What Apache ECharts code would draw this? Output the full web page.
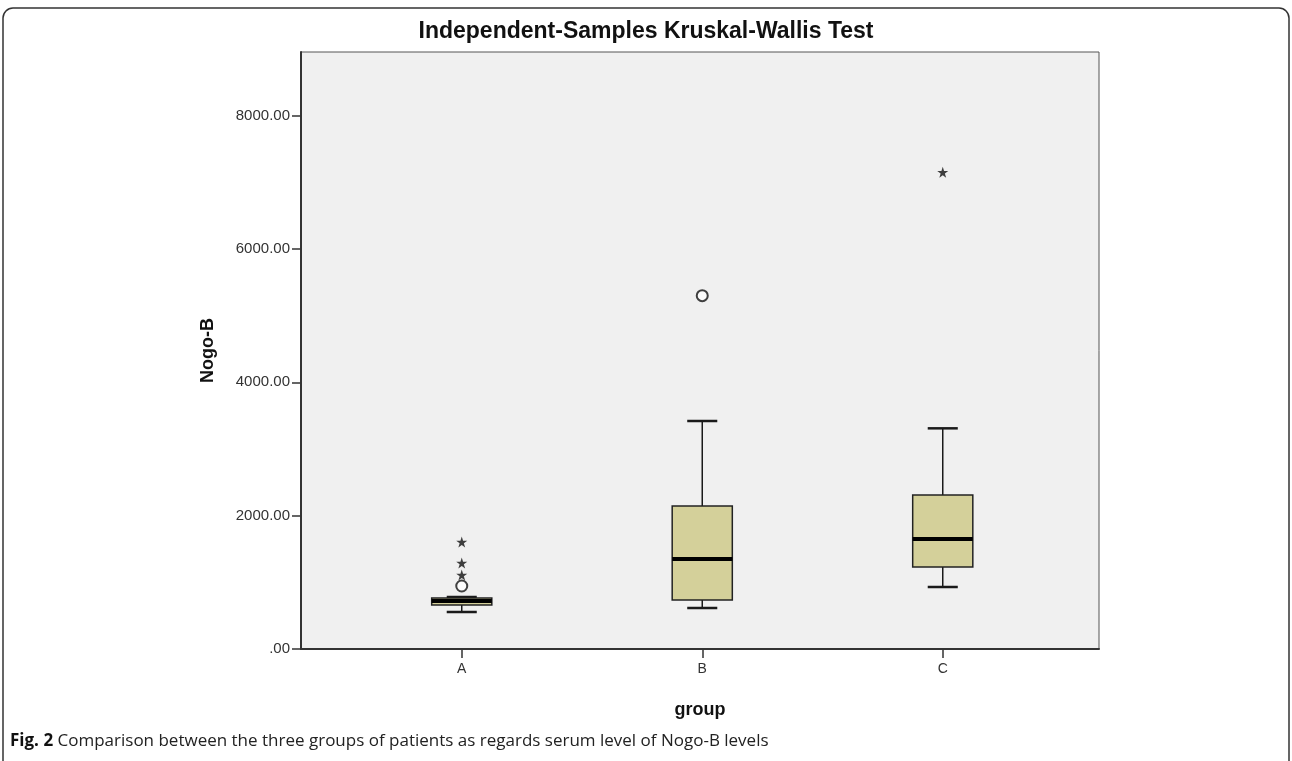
<!DOCTYPE html>
<html>
<head>
<meta charset="utf-8">
<script src="https://cdn.jsdelivr.net/npm/echarts@6/dist/echarts.min.js"></script>
<style>html,body{margin:0;padding:0;background:#fff;}#c{width:1292px;height:761px;}</style>
</head>
<body>
<div id="c"></div>
<script>
// ---- data ----
const categories = ['A', 'B', 'C'];
// [lower whisker, Q1, median, Q3, upper whisker]
const boxStats = [
  [555, 660, 720, 765, 780],
  [615, 735, 1350, 2145, 3420],
  [930, 1230, 1650, 2310, 3310]
];
// outliers (circle) and extreme values (star): [category, value]
const outliers = [['A', 945], ['B', 5300]];
const extremes = [['A', 1110], ['A', 1290], ['A', 1605], ['C', 7150]];
const yTickValues = [0, 2000, 4000, 6000, 8000];
const yMax = 8955;

const chart = echarts.init(document.getElementById('c'), null, {renderer: 'canvas'});
const font = '"Liberation Sans", Arial, sans-serif';
const starPath = 'path://M50,0 L61.8,35.5 L100,35.5 L69.1,57.5 L80.9,93.5 L50,71.5 L19.1,93.5 L30.9,57.5 L0,35.5 L38.2,35.5 Z';

const boxSeriesData = boxStats.map((s, i) => [i].concat(s));

const option = {
  backgroundColor: '#ffffff',
  animation: false,
  title: {
    text: 'Independent-Samples Kruskal-Wallis Test',
    left: 'center', top: 15,
    textStyle: {fontFamily: font, fontWeight: 'bold', fontSize: 23, color: '#111'}
  },
  grid: [
    {left: 301, right: 193, top: 52, bottom: 112, show: true, backgroundColor: '#f0f0f0', borderColor: '#555', borderWidth: 1},
    {left: 341.5, width: 721.5, top: 52, bottom: 112}
  ],
  xAxis: [
    {gridIndex: 0, type: 'value', min: 0, max: 1, axisLine: {show: true, onZero: false, lineStyle: {color: '#333', width: 2}},
     axisTick: {show: false}, axisLabel: {show: false}, splitLine: {show: false},
     name: 'group', nameLocation: 'middle', nameGap: 52,
     nameTextStyle: {fontFamily: font, fontWeight: 'bold', fontSize: 18, color: '#111'}},
    {gridIndex: 1, type: 'category', data: categories, axisLine: {show: false},
     axisTick: {show: true, alignWithLabel: true, length: 9, lineStyle: {color: '#333', width: 1.5}},
     axisLabel: {fontFamily: font, fontSize: 14, color: '#333', margin: 13}}
  ],
  yAxis: [
    {gridIndex: 0, type: 'value', min: 0, max: yMax,
     axisLine: {show: true, lineStyle: {color: '#333', width: 2}},
     axisTick: {show: true, length: 9, customValues: yTickValues, lineStyle: {color: '#333', width: 1.5}},
     axisLabel: {customValues: yTickValues, fontFamily: font, fontSize: 15, color: '#333', margin: 11,
       formatter: v => v === 0 ? '.00' : v.toFixed(2)},
     splitLine: {show: false},
     name: 'Nogo-B', nameLocation: 'middle', nameGap: 84, nameRotate: 90,
     nameTextStyle: {fontFamily: font, fontWeight: 'bold', fontSize: 18, color: '#111'}},
    {gridIndex: 1, type: 'value', min: 0, max: yMax, show: false}
  ],
  series: [
    {
      type: 'custom', xAxisIndex: 1, yAxisIndex: 1,
      data: boxSeriesData,
      renderItem: function (params, api) {
        const x = api.value(0);
        const lo = api.coord([x, api.value(1)]);
        const q1 = api.coord([x, api.value(2)]);
        const med = api.coord([x, api.value(3)]);
        const q3 = api.coord([x, api.value(4)]);
        const hi = api.coord([x, api.value(5)]);
        const band = api.size([1, 0])[0];
        const bw = band * 0.25;
        const cw = bw * 0.5;
        const cx = lo[0];
        const lineStyle = {stroke: '#1a1a1a', lineWidth: 1.5};
        return {
          type: 'group',
          children: [
            {type: 'line', shape: {x1: cx, y1: q3[1], x2: cx, y2: hi[1]}, style: lineStyle},
            {type: 'line', shape: {x1: cx, y1: q1[1], x2: cx, y2: lo[1]}, style: lineStyle},
            {type: 'line', shape: {x1: cx - cw / 2, y1: hi[1], x2: cx + cw / 2, y2: hi[1]}, style: {stroke: '#1a1a1a', lineWidth: 2.5}},
            {type: 'line', shape: {x1: cx - cw / 2, y1: lo[1], x2: cx + cw / 2, y2: lo[1]}, style: {stroke: '#1a1a1a', lineWidth: 2.5}},
            {type: 'rect', shape: {x: cx - bw / 2, y: q3[1], width: bw, height: q1[1] - q3[1]},
             style: {fill: '#d4d09a', stroke: '#222', lineWidth: 1.5}},
            {type: 'line', shape: {x1: cx - bw / 2, y1: med[1], x2: cx + bw / 2, y2: med[1]}, style: {stroke: '#000', lineWidth: 4}}
          ]
        };
      }
    },
    {
      type: 'scatter', xAxisIndex: 1, yAxisIndex: 1, data: outliers,
      symbol: 'emptyCircle', symbolSize: 11,
      itemStyle: {color: '#111', borderColor: '#111', borderWidth: 1.5}
    },
    {
      type: 'scatter', xAxisIndex: 1, yAxisIndex: 1, data: extremes,
      symbol: starPath, symbolSize: 11,
      itemStyle: {color: '#111'}
    }
  ],
  graphic: [
    {type: 'rect', shape: {x: 3, y: 8, width: 1286, height: 800, r: 10}, style: {fill: 'none', stroke: '#333', lineWidth: 1.5}, silent: true},
    {type: 'text', left: 10, top: 733,
     style: {text: '{b|Fig. 2} Comparison between the three groups of patients as regards serum level of Nogo-B levels',
       rich: {b: {fontWeight: 'bold', fontFamily: '"Open Sans", sans-serif', fontSize: 17, fill: '#111'}},
       fontFamily: '"Open Sans", sans-serif', fontSize: 17, fill: '#222'}}
  ]
};
chart.setOption(option);
</script>
</body>
</html>
